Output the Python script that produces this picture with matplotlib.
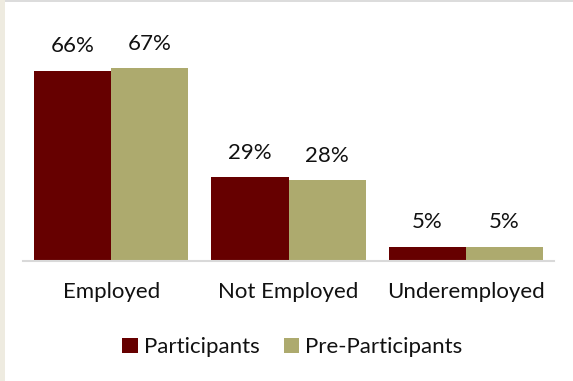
import matplotlib
matplotlib.use("Agg")
import matplotlib.patches as patches
import numpy as np
from matplotlib import pyplot as plt

categories = ["Employed", "Not Employed", "Underemployed"]
participants = [66, 29, 5]
pre_participants = [67, 28, 5]
series_names = ["Participants", "Pre-Participants"]

DARK_RED = "#660000"
OLIVE = "#ADAA6E"
BAR_WIDTH = 0.435

plt.rcParams['font.family'] = ['Lato', 'DejaVu Sans']

fig = plt.figure(figsize=(5.73, 3.81), dpi=100)
ax = fig.add_axes([0.040, 0.315, 0.927, 0.606])

x = np.arange(len(categories))
b1 = ax.bar(x - BAR_WIDTH / 2, participants, BAR_WIDTH, color=DARK_RED, label=series_names[0])
b2 = ax.bar(x + BAR_WIDTH / 2, pre_participants, BAR_WIDTH, color=OLIVE, label=series_names[1])

for bars, vals in ((b1, participants), (b2, pre_participants)):
    for rect, v in zip(bars, vals):
        ax.annotate(f"{v}%", (rect.get_x() + rect.get_width() / 2, rect.get_height()),
                    xytext=(0, 13), textcoords="offset points",
                    ha="center", va="baseline", fontsize=16, color="#111111")

ax.set_xlim(-0.5, 2.5)
ax.set_ylim(0, 80)
ax.set_xticks(x)
ax.set_xticklabels(categories, fontsize=16, color="#111111")
ax.tick_params(axis="x", length=0, pad=15)
ax.set_yticks([])
for side in ("left", "right", "top"):
    ax.spines[side].set_visible(False)
ax.spines["bottom"].set_color("#D9D9D9")
ax.spines["bottom"].set_linewidth(1.5)

fig.legend(handles=[b1, b2], loc="center", bbox_to_anchor=(0.51, 0.089), ncol=2,
           frameon=False, fontsize=16, handlelength=0.7, handleheight=0.7,
           handletextpad=0.25, columnspacing=1.1, labelcolor="#111111")

# page border bits around the chart
fig.add_artist(patches.Rectangle((0, 0), 5 / 573, 1, transform=fig.transFigure,
                                 facecolor="#EEEBE0", edgecolor="none"))
fig.add_artist(patches.Rectangle((5 / 573, 1 - 1.5 / 381), 1, 1.5 / 381, transform=fig.transFigure,
                                 facecolor="#DCDCDC", edgecolor="none"))

fig.savefig("out.png", dpi=100)
